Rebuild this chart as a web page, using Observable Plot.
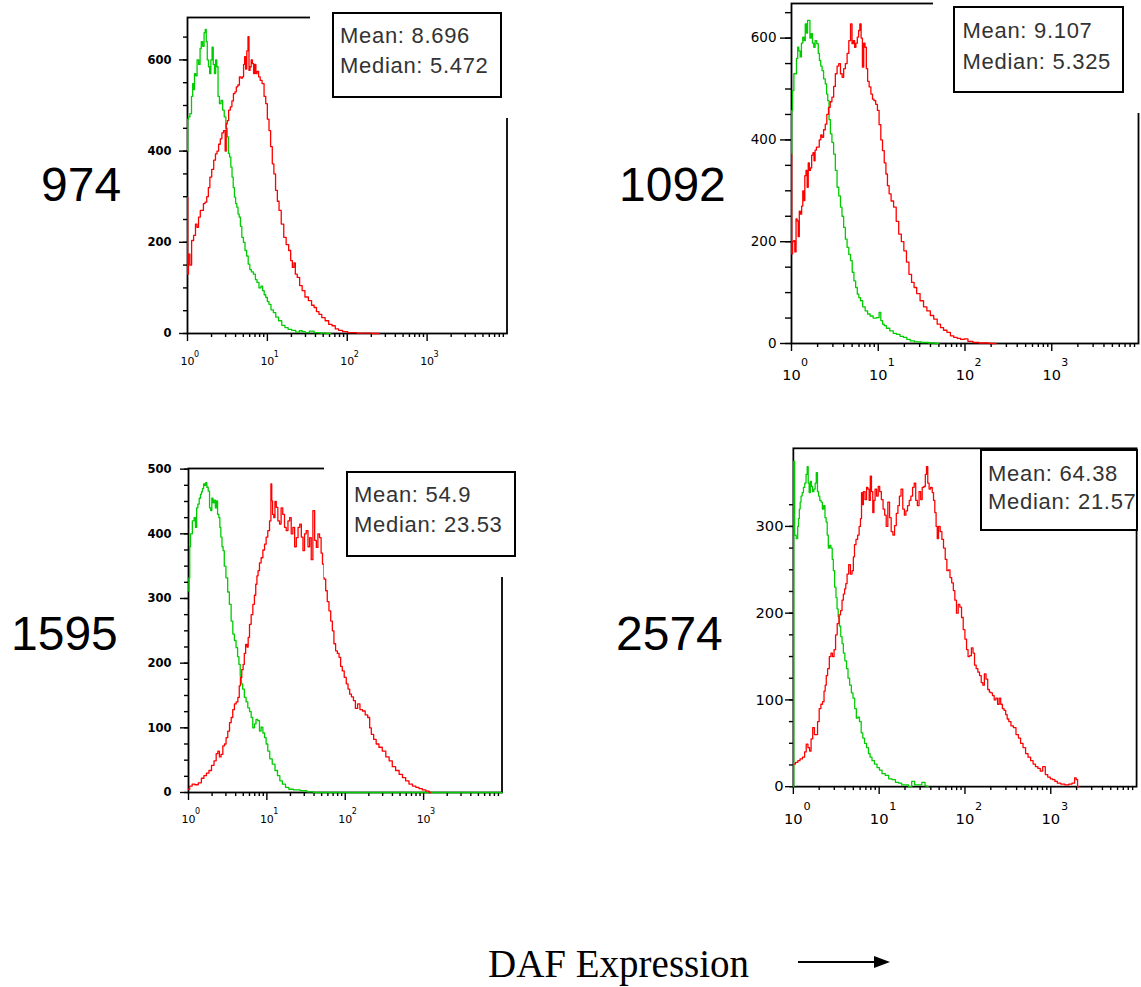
<!DOCTYPE html>
<html>
<head>
<meta charset="utf-8">
<script src="https://cdn.jsdelivr.net/npm/d3@7"></script>
<script src="https://cdn.jsdelivr.net/npm/@observablehq/plot@0.6"></script>
<style>
  body { margin: 0; background: #fff; overflow: hidden; }
  #root { position: relative; width: 1141px; height: 987px; overflow: hidden; background: #fff;
          font-family: "Liberation Sans", Arial, sans-serif; }
  .panel { position: absolute; }
  .panel svg { overflow: visible; }
  .mask { position: absolute; background: #fff; }
  .stats { position: absolute; box-sizing: border-box; border: 2px solid #000; background: #fff;
           font-size: 22px; color: #333; letter-spacing: 0.7px; white-space: nowrap; }
  .big { position: absolute; font-size: 48px; line-height: 1; color: #000; }
  .xlabel { position: absolute; font-family: "Liberation Serif", "Times New Roman", serif; font-size: 39px; line-height: 1; color: #000; }
</style>
</head>
<body>
<div id="root"></div>
<script>
// ---------------- DATA ----------------
const panelNames = ["974", "1092", "1595", "2574"];
const meanValues = ["8.696", "9.107", "54.9", "64.38"];
const medianValues = ["5.472", "5.325", "23.53", "21.57"];
const axisTitle = "DAF Expression";

const xTickValues = [1, 10, 100, 1000];
const xTickBase = "10";
const xTickExponents = ["0", "1", "2", "3"];

const yTicks974 = [0, 200, 400, 600];
const yTicks1092 = [0, 200, 400, 600];
const yTicks1595 = [0, 100, 200, 300, 400, 500];
const yTicks2574 = [0, 100, 200, 300];

// curves: [decade position = log10(DAF intensity), cell count]
const green974 = [[0.00,401],[0.005,470],[0.02,475],[0.04,482],[0.06,520],[0.07,548],[0.08,535],[0.095,570],[0.11,565],[0.13,600],[0.15,590],[0.165,625],[0.18,640],[0.20,630],[0.215,660],[0.23,667],[0.24,640],[0.255,600],[0.27,585],[0.285,570],[0.30,600],[0.315,628],[0.33,590],[0.345,570],[0.36,600],[0.375,585],[0.39,520],[0.41,504],[0.43,511],[0.45,490],[0.47,475],[0.49,450],[0.505,431],[0.52,395],[0.535,387],[0.55,365],[0.565,343],[0.58,320],[0.595,299],[0.61,285],[0.625,277],[0.64,262],[0.655,255],[0.67,235],[0.69,211],[0.71,200],[0.73,182],[0.75,170],[0.77,152],[0.79,140],[0.81,135],[0.84,130],[0.86,118],[0.88,112],[0.91,100],[0.93,104],[0.95,94],[0.97,85],[0.99,79],[1.01,70],[1.03,64],[1.06,52],[1.09,46],[1.12,36],[1.16,28],[1.20,18],[1.24,13],[1.28,9],[1.33,7],[1.38,3],[1.42,6],[1.45,4],[1.50,2],[1.55,5],[1.62,2],[1.70,1],[1.79,0]];
const red974 = [[0.00,299],[0.005,130],[0.02,174],[0.04,150],[0.063,204],[0.09,215],[0.11,240],[0.126,233],[0.15,255],[0.17,270],[0.189,270],[0.21,285],[0.23,288],[0.252,300],[0.27,320],[0.29,343],[0.316,360],[0.34,380],[0.36,394],[0.379,400],[0.40,415],[0.421,427],[0.44,440],[0.463,445],[0.48,400],[0.49,460],[0.505,467],[0.525,490],[0.547,497],[0.565,510],[0.585,526],[0.602,530],[0.62,541],[0.64,545],[0.66,563],[0.68,560],[0.694,563],[0.71,590],[0.72,607],[0.735,580],[0.75,620],[0.765,651],[0.775,577],[0.79,585],[0.805,600],[0.82,592],[0.835,570],[0.85,590],[0.862,570],[0.88,575],[0.90,563],[0.92,555],[0.947,548],[0.97,520],[0.989,504],[1.01,470],[1.031,445],[1.05,410],[1.073,372],[1.09,350],[1.115,314],[1.135,290],[1.157,270],[1.19,240],[1.22,211],[1.25,195],[1.283,182],[1.30,160],[1.325,145],[1.34,155],[1.36,130],[1.388,123],[1.42,105],[1.451,94],[1.49,80],[1.536,72],[1.57,62],[1.599,57],[1.63,48],[1.662,42],[1.70,35],[1.746,28],[1.79,20],[1.83,17],[1.87,10],[1.914,7],[1.97,4],[2.04,2],[2.2,1],[2.40,0]];

const green1092 = [[0.00,372],[0.005,458],[0.02,497],[0.035,530],[0.05,530],[0.065,560],[0.078,582],[0.09,575],[0.109,563],[0.12,590],[0.14,602],[0.15,595],[0.167,628],[0.18,610],[0.19,635],[0.205,635],[0.22,600],[0.233,609],[0.25,590],[0.264,582],[0.28,595],[0.302,589],[0.315,570],[0.329,556],[0.345,545],[0.36,536],[0.38,520],[0.399,510],[0.41,490],[0.426,477],[0.44,440],[0.457,412],[0.475,395],[0.496,372],[0.515,340],[0.535,307],[0.555,290],[0.574,268],[0.59,250],[0.612,228],[0.63,205],[0.651,189],[0.67,175],[0.690,163],[0.71,140],[0.729,123],[0.75,110],[0.767,97],[0.785,90],[0.806,84],[0.835,72],[0.864,64],[0.89,58],[0.922,54],[0.96,50],[1.00,51],[1.02,61],[1.039,45],[1.06,38],[1.078,35],[1.11,30],[1.155,25],[1.19,20],[1.233,18],[1.27,14],[1.31,12],[1.35,8],[1.388,5],[1.45,3],[1.543,2],[1.62,1],[1.698,0]];
const red1092 = [[0.00,372],[0.005,176],[0.02,200],[0.031,202],[0.045,180],[0.06,245],[0.070,241],[0.085,210],[0.095,260],[0.109,254],[0.125,270],[0.135,300],[0.147,281],[0.16,330],[0.175,340],[0.186,307],[0.2,355],[0.212,340],[0.225,345],[0.24,370],[0.255,375],[0.264,359],[0.28,380],[0.295,386],[0.31,386],[0.33,400],[0.345,410],[0.36,405],[0.38,420],[0.399,431],[0.415,450],[0.438,464],[0.455,475],[0.477,484],[0.495,505],[0.516,530],[0.535,545],[0.554,550],[0.575,530],[0.593,523],[0.61,540],[0.632,550],[0.65,570],[0.671,595],[0.69,628],[0.705,589],[0.72,595],[0.735,582],[0.75,590],[0.767,602],[0.78,615],[0.795,628],[0.81,600],[0.825,543],[0.84,590],[0.855,582],[0.87,540],[0.885,515],[0.905,504],[0.925,490],[0.942,480],[0.96,477],[0.981,470],[1.00,458],[1.019,430],[1.04,400],[1.058,379],[1.08,355],[1.097,333],[1.115,310],[1.136,294],[1.16,280],[1.194,268],[1.22,240],[1.252,215],[1.28,200],[1.31,182],[1.34,160],[1.368,136],[1.40,120],[1.426,110],[1.46,98],[1.504,84],[1.54,72],[1.581,64],[1.62,55],[1.659,48],[1.70,38],[1.736,31],[1.77,26],[1.814,22],[1.85,15],[1.891,12],[1.93,10],[1.97,8],[2.008,9],[2.06,4],[2.124,2],[2.2,1],[2.357,0]];

const green1595 = [[0.00,312],[0.01,332],[0.021,380],[0.03,400],[0.043,400],[0.055,420],[0.064,420],[0.08,425],[0.098,410],[0.11,440],[0.128,446],[0.145,455],[0.16,461],[0.171,465],[0.185,470],[0.2,477],[0.213,475],[0.225,479],[0.243,472],[0.26,466],[0.277,440],[0.29,436],[0.305,455],[0.320,448],[0.335,452],[0.35,440],[0.362,451],[0.38,430],[0.395,425],[0.405,410],[0.42,395],[0.435,380],[0.448,374],[0.465,350],[0.490,332],[0.51,310],[0.533,291],[0.555,265],[0.576,245],[0.595,235],[0.618,224],[0.635,210],[0.652,198],[0.668,180],[0.682,168],[0.70,160],[0.725,147],[0.745,140],[0.768,131],[0.79,125],[0.810,116],[0.83,100],[0.853,106],[0.87,113],[0.896,111],[0.915,95],[0.938,101],[0.96,92],[0.981,85],[1.00,75],[1.023,64],[1.05,52],[1.087,44],[1.12,34],[1.151,26],[1.18,18],[1.215,13],[1.26,8],[1.301,5],[1.38,4],[1.471,3],[1.55,1],[1.642,0],[4.0,0]];
const red1595 = [[0.00,5],[0.03,10],[0.064,13],[0.1,12],[0.149,15],[0.18,22],[0.213,26],[0.245,30],[0.277,34],[0.31,42],[0.341,49],[0.365,60],[0.384,64],[0.405,55],[0.426,59],[0.45,72],[0.469,75],[0.49,85],[0.512,95],[0.535,108],[0.554,116],[0.575,128],[0.597,137],[0.62,140],[0.640,147],[0.655,165],[0.670,178],[0.69,190],[0.704,198],[0.72,215],[0.738,229],[0.755,225],[0.768,240],[0.789,260],[0.81,275],[0.832,291],[0.85,305],[0.866,322],[0.88,335],[0.896,343],[0.915,355],[0.938,363],[0.96,375],[0.981,384],[1.00,395],[1.023,405],[1.045,420],[1.058,477],[1.066,451],[1.08,430],[1.096,425],[1.11,450],[1.130,441],[1.15,420],[1.173,415],[1.19,440],[1.215,430],[1.235,410],[1.258,405],[1.28,420],[1.301,425],[1.32,400],[1.343,410],[1.365,380],[1.386,394],[1.41,410],[1.429,415],[1.45,395],[1.471,374],[1.49,400],[1.514,405],[1.535,380],[1.557,394],[1.575,360],[1.599,436],[1.62,390],[1.642,379],[1.66,400],[1.684,394],[1.70,370],[1.719,353],[1.74,330],[1.761,312],[1.78,295],[1.804,281],[1.825,265],[1.846,250],[1.865,230],[1.889,219],[1.91,215],[1.932,209],[1.95,195],[1.974,188],[2.0,178],[2.026,168],[2.045,160],[2.068,152],[2.09,148],[2.119,142],[2.14,130],[2.175,137],[2.2,128],[2.239,126],[2.27,120],[2.303,116],[2.32,100],[2.345,90],[2.38,82],[2.409,75],[2.45,70],[2.495,64],[2.54,55],[2.58,49],[2.62,40],[2.665,34],[2.71,28],[2.751,23],[2.79,18],[2.836,13],[2.88,10],[2.921,8],[2.96,6],[3.006,4],[3.05,2],[3.092,0]];

const green2574 = [[0.00,0],[0.01,375],[0.02,290],[0.046,286],[0.055,300],[0.065,309],[0.075,320],[0.084,328],[0.095,335],[0.110,339],[0.125,345],[0.141,350],[0.155,360],[0.168,369],[0.178,350],[0.190,339],[0.205,352],[0.217,346],[0.23,340],[0.248,343],[0.26,350],[0.274,362],[0.288,340],[0.301,335],[0.315,330],[0.331,328],[0.345,320],[0.362,324],[0.375,310],[0.389,305],[0.40,290],[0.415,275],[0.43,278],[0.446,275],[0.46,262],[0.472,249],[0.49,230],[0.503,218],[0.515,205],[0.530,196],[0.545,185],[0.560,173],[0.575,165],[0.590,154],[0.61,145],[0.629,136],[0.645,125],[0.667,117],[0.685,108],[0.705,102],[0.725,90],[0.743,79],[0.76,80],[0.781,75],[0.80,62],[0.819,56],[0.84,50],[0.865,45],[0.885,38],[0.903,34],[0.93,30],[0.960,26],[0.99,22],[1.017,19],[1.05,15],[1.093,13],[1.13,9],[1.17,8],[1.21,5],[1.246,4],[1.28,2],[1.322,2],[1.36,0],[1.398,6],[1.43,2],[1.474,2],[1.52,5],[1.55,1],[1.57,0]];
const red2574 = [[0.01,26],[0.04,28],[0.065,30],[0.09,32],[0.122,34],[0.14,40],[0.160,49],[0.18,45],[0.198,41],[0.215,55],[0.236,68],[0.255,60],[0.274,60],[0.29,75],[0.312,90],[0.33,95],[0.350,98],[0.365,110],[0.377,117],[0.39,128],[0.408,136],[0.43,150],[0.446,154],[0.465,150],[0.484,158],[0.50,175],[0.522,188],[0.54,198],[0.560,203],[0.575,215],[0.590,222],[0.605,228],[0.617,234],[0.635,245],[0.655,256],[0.675,245],[0.693,249],[0.705,265],[0.720,279],[0.74,285],[0.758,290],[0.775,300],[0.789,309],[0.80,339],[0.808,325],[0.825,340],[0.846,331],[0.86,345],[0.876,343],[0.89,330],[0.903,358],[0.918,340],[0.933,316],[0.945,330],[0.960,343],[0.98,335],[0.998,346],[1.015,340],[1.036,331],[1.055,320],[1.074,313],[1.09,300],[1.112,328],[1.13,310],[1.150,294],[1.17,290],[1.189,301],[1.21,315],[1.227,324],[1.245,335],[1.265,343],[1.285,320],[1.303,313],[1.32,318],[1.341,324],[1.36,330],[1.379,335],[1.40,345],[1.417,350],[1.435,330],[1.455,324],[1.475,340],[1.493,331],[1.51,345],[1.531,346],[1.545,360],[1.558,369],[1.575,350],[1.589,343],[1.61,345],[1.627,339],[1.64,330],[1.657,316],[1.67,300],[1.684,286],[1.70,300],[1.722,294],[1.74,285],[1.760,275],[1.78,262],[1.798,249],[1.815,250],[1.836,241],[1.855,235],[1.874,226],[1.89,215],[1.912,200],[1.93,210],[1.950,207],[1.97,195],[1.989,181],[2.01,170],[2.027,158],[2.045,150],[2.065,151],[2.085,160],[2.103,154],[2.12,140],[2.141,136],[2.16,132],[2.179,128],[2.2,120],[2.217,117],[2.235,130],[2.255,124],[2.275,112],[2.293,109],[2.31,108],[2.331,105],[2.35,100],[2.370,102],[2.39,95],[2.408,102],[2.425,95],[2.446,90],[2.465,88],[2.484,83],[2.50,78],[2.522,75],[2.55,70],[2.579,68],[2.61,60],[2.636,56],[2.66,50],[2.693,45],[2.72,38],[2.750,34],[2.78,30],[2.808,26],[2.835,23],[2.865,21],[2.89,18],[2.922,23],[2.95,14],[2.979,11],[3.01,9],[3.036,8],[3.06,6],[3.093,4],[3.14,3],[3.189,2],[3.23,3],[3.265,4],[3.29,10],[3.303,8],[3.322,0]];

const greenSeries = [green974, green1092, green1595, green2574];
const redSeries = [red974, red1092, red1595, red2574];
const yMajorTicks = [yTicks974, yTicks1092, yTicks1595, yTicks2574];

// ---------------- LAYOUT (positions, sizes, styles) ----------------
const layouts = [
  { svg: {left: 130, top: 0, width: 392, height: 378}, m: [17, 15.5, 45, 57], yMax: 693, yMinorStep: 50,
    yFont: 11.5, yWeight: "bold", ySize: 8, yMinorSize: 4, yPad: 8, xFont: 11, xPad: 16, expFont: 8, expDx: 9, expDy: -6,
    mask: {left: 310, top: 0, width: 220, height: 118},
    box: {left: 332, top: 12, width: 170, height: 86, padL: 6, padT: 6.5, lh: 30},
    big: {left: 41, top: 161} },
  { svg: {left: 731, top: 0, width: 410, height: 388}, m: [3, 3, 45, 60], yMax: 668, yMinorStep: 50,
    yFont: 13.5, yWeight: "normal", ySize: 11, yMinorSize: 6, yPad: 4, xFont: 14.5, xPad: 18, expFont: 11, expDx: 13, expDy: -11,
    mask: {left: 933, top: 0, width: 210, height: 113},
    box: {left: 953, top: 6, width: 171, height: 87, padL: 7.5, padT: 6.5, lh: 31},
    big: {left: 619, top: 161} },
  { svg: {left: 130, top: 455, width: 386, height: 382}, m: [13, 14.5, 45, 58], yMax: 501, yMinorStep: 25,
    yFont: 11.5, yWeight: "bold", ySize: 8, yMinorSize: 4, yPad: 9, xFont: 11, xPad: 15, expFont: 8, expDx: 9, expDy: -7,
    mask: {left: 324, top: 455, width: 200, height: 122},
    box: {left: 346, top: 471, width: 170, height: 86, padL: 6, padT: 7, lh: 30},
    big: {left: 11, top: 610} },
  { svg: {left: 735, top: 440, width: 414, height: 398}, m: [8, 5, 45, 59], yMax: 390, yMinorStep: 25,
    yFont: 15, yWeight: "normal", ySize: 8, yMinorSize: 4, yPad: 2, xFont: 15, xPad: 19, expFont: 11.5, expDx: 14, expDy: -11,
    mask: null,
    box: {left: 980, top: 449, width: 158, height: 82, padL: 6, padT: 8.5, lh: 28},
    big: {left: 616, top: 610} }
];

const xMajorTickSize = 8;
const xMinorTicks = xTickValues.flatMap(p => [2, 3, 4, 5, 6, 7, 8, 9].map(m => m * p));
const root = document.getElementById("root");

function drawPanel(i) {
  const L = layouts[i];
  const toPts = arr => arr.map(([lx, c]) => ({v: 10 ** lx, c}));
  const yMinor = d3.range(0, yMajorTicks[i][yMajorTicks[i].length - 1] + L.yMinorStep * 1.5, L.yMinorStep)
    .filter(v => v <= L.yMax);
  const chart = Plot.plot({
    width: L.svg.width, height: L.svg.height,
    marginTop: L.m[0], marginRight: L.m[1], marginBottom: L.m[2], marginLeft: L.m[3],
    style: {fontFamily: "'DejaVu Sans', sans-serif", background: "transparent", color: "#000"},
    x: {type: "log", domain: [1, 1e4], label: null},
    y: {domain: [0, L.yMax], label: null},
    marks: [
      Plot.frame({stroke: "#000", strokeWidth: 1.8}),
      Plot.axisY(yMinor, {tickSize: L.yMinorSize, tickFormat: () => "", strokeWidth: 1.4, label: null}),
      Plot.axisY(yMajorTicks[i], {tickSize: L.ySize, tickPadding: L.yPad, fontSize: L.yFont, fontWeight: L.yWeight, strokeWidth: 1.4, label: null}),
      Plot.axisX(xMinorTicks, {tickSize: 4, tickFormat: () => "", strokeWidth: 1.4, label: null}),
      Plot.axisX(xTickValues, {tickSize: xMajorTickSize, tickPadding: L.xPad, tickFormat: () => xTickBase, fontSize: L.xFont, strokeWidth: 1.4, label: null}),
      Plot.axisX(xTickValues, {tickSize: 0, tickPadding: L.xPad + xMajorTickSize, tickFormat: d => xTickExponents[xTickValues.indexOf(d)],
        fontSize: L.expFont, dx: L.expDx, dy: L.expDy, label: null}),
      Plot.line(toPts(greenSeries[i]), {x: "v", y: "c", curve: "step", stroke: "#00cc00", strokeWidth: 1.3}),
      Plot.line(toPts(redSeries[i]), {x: "v", y: "c", curve: "step", stroke: "#ff0000", strokeWidth: 1.3})
    ]
  });
  const wrap = document.createElement("div");
  wrap.className = "panel";
  wrap.style.left = L.svg.left + "px";
  wrap.style.top = L.svg.top + "px";
  wrap.appendChild(chart);
  root.appendChild(wrap);

  if (L.mask) {
    const mk = document.createElement("div");
    mk.className = "mask";
    Object.assign(mk.style, {left: L.mask.left + "px", top: L.mask.top + "px", width: L.mask.width + "px", height: L.mask.height + "px"});
    root.appendChild(mk);
  }
  const bx = document.createElement("div");
  bx.className = "stats";
  Object.assign(bx.style, {left: L.box.left + "px", top: L.box.top + "px", width: L.box.width + "px", height: L.box.height + "px",
    paddingLeft: L.box.padL + "px", paddingTop: L.box.padT + "px", lineHeight: L.box.lh + "px"});
  bx.innerHTML = "<div>Mean: " + meanValues[i] + "</div><div>Median: " + medianValues[i] + "</div>";
  root.appendChild(bx);

  const big = document.createElement("div");
  big.className = "big";
  big.style.left = L.big.left + "px";
  big.style.top = L.big.top + "px";
  big.textContent = panelNames[i];
  root.appendChild(big);
}

for (let i = 0; i < 4; i++) drawPanel(i);

const xl = document.createElement("div");
xl.className = "xlabel";
xl.style.left = "488px";
xl.style.top = "944px";
xl.textContent = axisTitle;
root.appendChild(xl);

const shaft = document.createElement("div");
Object.assign(shaft.style, {position: "absolute", left: "798px", top: "961px", width: "78px", height: "2px", background: "#000"});
root.appendChild(shaft);
const head = document.createElement("div");
Object.assign(head.style, {position: "absolute", left: "874px", top: "956px", width: "0", height: "0",
  borderLeft: "16px solid #000", borderTop: "6px solid transparent", borderBottom: "6px solid transparent"});
root.appendChild(head);
</script>
</body>
</html>
